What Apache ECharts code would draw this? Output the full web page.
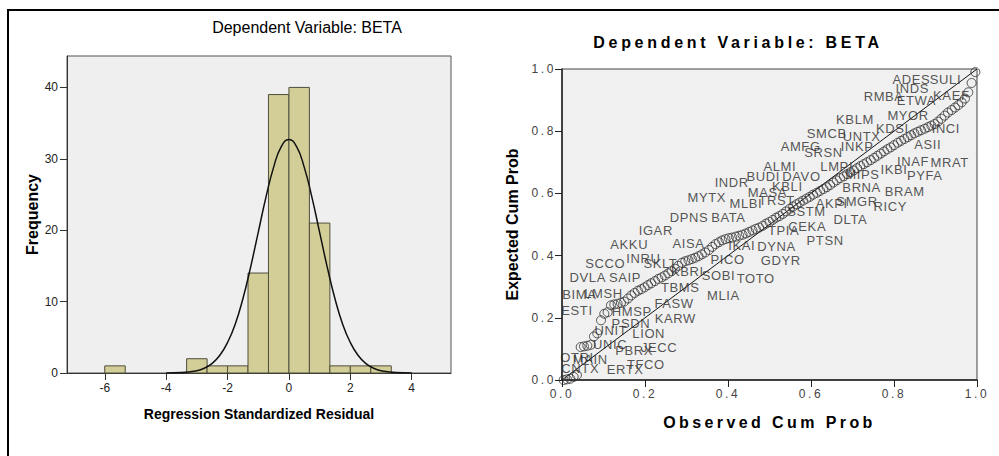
<!DOCTYPE html>
<html>
<head>
<meta charset="utf-8">
<title>Dependent Variable: BETA</title>
<script src="https://cdn.jsdelivr.net/npm/echarts@6/dist/echarts.min.js"></script>
<style>
  html, body { margin: 0; padding: 0; background: #fff; }
  #main { width: 999px; height: 456px; }
  /* letter spacing for the wide SPSS text (svg renderer only) */
  #main text[style*="spA"], #main text[font-family*="spA"] { letter-spacing: 3.7px; }
  #main text[style*="spB"], #main text[font-family*="spB"] { letter-spacing: 3.4px; }
  #main text[style*="spC"], #main text[font-family*="spC"] { letter-spacing: 2.6px; }
  #main text[style*="spD"], #main text[font-family*="spD"] { letter-spacing: 0.6px; }
</style>
</head>
<body>
<div id="main"></div>
<script>
// histogram of residuals
const histLow = [-6, -3.333, -2.667, -2, -1.333, -0.667, 0, 0.667, 1.333, 2, 2.667]
const histCount = [1, 2, 1, 1, 14, 39, 40, 21, 1, 1, 1]
const binWidth = 0.667
// normal curve
const curveX = [-4, -3.5, -3, -2.75, -2.5, -2.25, -2, -1.75, -1.5, -1.25, -1, -0.75, -0.5, -0.25, 0,
  0.25, 0.5, 0.75, 1, 1.25, 1.5, 1.75, 2, 2.25, 2.5, 2.75, 3, 3.5, 4]
const curveY = [0.01, 0.06, 0.33, 0.69, 1.35, 2.49, 4.27, 6.84, 10.4, 14.8, 19.7, 24.6, 28.8, 31.7, 32.7,
  31.7, 28.8, 24.6, 19.7, 14.8, 10.4, 6.84, 4.27, 2.49, 1.35, 0.69, 0.33, 0.06, 0.01]
const residTicks = [-6, -4, -2, 0, 2, 4]
const freqTicks = [0, 10, 20, 30, 40]

// P-P plot
const obsCum = [
  0.004, 0.012, 0.020, 0.028, 0.036, 0.045, 0.053, 0.061, 0.069, 0.077,
  0.085, 0.094, 0.102, 0.110, 0.118, 0.126, 0.134, 0.142, 0.150, 0.159,
  0.167, 0.175, 0.183, 0.191, 0.199, 0.207, 0.215, 0.224, 0.232, 0.240,
  0.248, 0.256, 0.264, 0.272, 0.280, 0.289, 0.297, 0.305, 0.313, 0.321,
  0.329, 0.337, 0.345, 0.354, 0.362, 0.370, 0.378, 0.386, 0.394, 0.402,
  0.410, 0.419, 0.427, 0.435, 0.443, 0.451, 0.459, 0.467, 0.475, 0.484,
  0.492, 0.500, 0.508, 0.516, 0.524, 0.532, 0.540, 0.549, 0.557, 0.565,
  0.573, 0.581, 0.589, 0.597, 0.605, 0.614, 0.622, 0.630, 0.638, 0.646,
  0.654, 0.662, 0.670, 0.679, 0.687, 0.695, 0.703, 0.711, 0.719, 0.727,
  0.735, 0.744, 0.752, 0.760, 0.768, 0.776, 0.784, 0.792, 0.800, 0.809,
  0.817, 0.825, 0.833, 0.841, 0.849, 0.857, 0.865, 0.874, 0.882, 0.890,
  0.898, 0.906, 0.914, 0.922, 0.930, 0.939, 0.947, 0.955, 0.963, 0.971,
  0.979, 0.987, 0.996]
const expCum = [
  0.000, 0.002, 0.004, 0.010, 0.016, 0.106, 0.108, 0.110, 0.113, 0.140,
  0.150, 0.192, 0.213, 0.218, 0.240, 0.243, 0.245, 0.248, 0.252, 0.262,
  0.272, 0.280, 0.287, 0.292, 0.298, 0.305, 0.311, 0.318, 0.325, 0.330,
  0.336, 0.343, 0.350, 0.358, 0.367, 0.377, 0.382, 0.385, 0.389, 0.393,
  0.398, 0.404, 0.410, 0.418, 0.428, 0.437, 0.443, 0.449, 0.453, 0.456,
  0.458, 0.461, 0.464, 0.467, 0.471, 0.476, 0.481, 0.486, 0.490, 0.496,
  0.503, 0.508, 0.515, 0.522, 0.527, 0.534, 0.542, 0.551, 0.558, 0.565,
  0.571, 0.577, 0.583, 0.589, 0.596, 0.602, 0.608, 0.614, 0.620, 0.627,
  0.635, 0.642, 0.649, 0.655, 0.662, 0.668, 0.674, 0.681, 0.688, 0.694,
  0.700, 0.707, 0.714, 0.721, 0.728, 0.735, 0.742, 0.748, 0.755, 0.763,
  0.769, 0.775, 0.781, 0.787, 0.793, 0.798, 0.803, 0.808, 0.813, 0.818,
  0.823, 0.831, 0.840, 0.850, 0.860, 0.868, 0.876, 0.884, 0.893, 0.905,
  0.925, 0.955, 0.990]
// case labels (where SPSS put them)
const caseNames = ['ADES', 'SULI', 'INDS', 'RMBA', 'ETWA', 'KAEF', 'MYOR', 'KBLM', 'KDSI', 'INCI',
  'SMCB', 'UNTX', 'ASII', 'AMFG', 'SRSN', 'INKP', 'INAF', 'MRAT', 'ALMI', 'LMPI',
  'BUDI', 'DAVO', 'MIPS', 'IKBI', 'PYFA', 'INDR', 'KBLI', 'BRNA', 'BRAM', 'MYTX',
  'MASA', 'MLBI', 'TRST', 'AKPI', 'SMGR', 'RICY', 'SSTM', 'DPNS', 'BATA', 'DLTA',
  'IGAR', 'CEKA', 'TPIA', 'AKKU', 'AISA', 'IKAI', 'DYNA', 'PTSN', 'SCCO', 'INRU',
  'SKLT', 'PICO', 'GDYR', 'DVLA', 'SAIP', 'KBRI', 'SOBI', 'TOTO', 'BIMA', 'LMSH',
  'TBMS', 'MLIA', 'ESTI', 'HMSP', 'FASW', 'KARW', 'PSDN', 'UNIT', 'LION', 'UNIC',
  'PBRX', 'JECC', 'OTRI', 'MAIN', 'CNTX', 'ERTX', 'TFCO']
const caseX = [0.842, 0.924, 0.844, 0.775, 0.854, 0.938, 0.834, 0.706, 0.796, 0.925,
  0.638, 0.722, 0.881, 0.575, 0.630, 0.711, 0.846, 0.934, 0.525, 0.662,
  0.485, 0.577, 0.724, 0.800, 0.874, 0.409, 0.543, 0.722, 0.826, 0.349,
  0.495, 0.443, 0.517, 0.650, 0.711, 0.791, 0.589, 0.306, 0.401, 0.695,
  0.226, 0.591, 0.534, 0.162, 0.305, 0.433, 0.517, 0.634, 0.104, 0.196,
  0.237, 0.399, 0.527, 0.062, 0.152, 0.302, 0.377, 0.467, 0.042, 0.100,
  0.285, 0.389, 0.036, 0.168, 0.270, 0.273, 0.166, 0.118, 0.209, 0.116,
  0.174, 0.234, 0.036, 0.068, 0.044, 0.152, 0.202]
const caseY = [0.965, 0.965, 0.938, 0.911, 0.898, 0.914, 0.852, 0.838, 0.809, 0.809,
  0.791, 0.782, 0.756, 0.750, 0.731, 0.750, 0.704, 0.700, 0.688, 0.688,
  0.654, 0.654, 0.661, 0.678, 0.657, 0.635, 0.622, 0.620, 0.606, 0.586,
  0.602, 0.568, 0.576, 0.568, 0.573, 0.557, 0.541, 0.523, 0.523, 0.517,
  0.482, 0.493, 0.480, 0.436, 0.439, 0.434, 0.429, 0.447, 0.375, 0.391,
  0.375, 0.389, 0.383, 0.330, 0.330, 0.348, 0.337, 0.327, 0.275, 0.279,
  0.297, 0.273, 0.225, 0.220, 0.247, 0.198, 0.182, 0.158, 0.148, 0.113,
  0.096, 0.104, 0.073, 0.066, 0.038, 0.034, 0.050]

const arial = "'Liberation Sans', Arial, sans-serif"

const chart = echarts.init(document.querySelector('#main'), null, { renderer: 'svg' })

const option = {
  animation: false,
  backgroundColor: '#fff',
  title: [
    {
      text: 'Dependent Variable: BETA',
      left: 302,
      top: 14,
      textAlign: 'center',
      textStyle: { fontFamily: arial, fontSize: 16, fontWeight: 'normal', color: '#000' }
    },
    {
      text: 'Dependent Variable: BETA',
      left: 733,
      top: 29,
      textAlign: 'center',
      textStyle: { fontFamily: arial + ', spA', fontSize: 16, fontWeight: 'bold', color: '#000' }
    }
  ],
  graphic: [
    { type: 'line', shape: { x1: 7, y1: 10, x2: 999, y2: 10 }, style: { stroke: '#000', lineWidth: 2 } },
    { type: 'line', shape: { x1: 8, y1: 10, x2: 8, y2: 456 }, style: { stroke: '#000', lineWidth: 2 } }
  ],
  grid: [
    { left: 67, top: 56, width: 384, height: 317, show: true, backgroundColor: '#efefef', borderColor: '#555', borderWidth: 1 },
    { left: 562, top: 69, width: 415, height: 311, show: true, backgroundColor: '#f0f0f0', borderColor: '#444', borderWidth: 1 }
  ],
  xAxis: [
    {
      type: 'value',
      gridIndex: 0,
      min: -7.23,
      max: 5.28,
      name: 'Regression Standardized Residual',
      nameLocation: 'middle',
      nameGap: 34,
      nameTextStyle: { fontFamily: arial, fontSize: 14, fontWeight: 'bold', color: '#000' },
      axisLine: { onZero: false, lineStyle: { color: '#333', width: 1 } },
      axisTick: { customValues: residTicks, length: 7, lineStyle: { color: '#333' } },
      axisLabel: { customValues: residTicks, fontFamily: arial, fontSize: 12, color: '#222', margin: 9 },
      splitLine: { show: false }
    },
    {
      type: 'value',
      gridIndex: 1,
      min: 0,
      max: 1,
      interval: 0.2,
      name: 'Observed Cum Prob',
      nameLocation: 'middle',
      nameGap: 34,
      nameTextStyle: { fontFamily: arial + ', spB', fontSize: 16, fontWeight: 'bold', color: '#000' },
      axisLine: { onZero: false, lineStyle: { color: '#222', width: 1.5 } },
      axisTick: { length: 7, lineStyle: { color: '#222' } },
      axisLabel: { formatter: v => v.toFixed(1), fontFamily: arial + ', spC', fontSize: 12, color: '#444', margin: 8 },
      splitLine: { show: false }
    }
  ],
  yAxis: [
    {
      type: 'value',
      gridIndex: 0,
      min: 0,
      max: 44.4,
      name: 'Frequency',
      nameLocation: 'middle',
      nameGap: 22,
      nameTextStyle: { fontFamily: arial, fontSize: 16, fontWeight: 'bold', color: '#000' },
      axisLine: { onZero: false, lineStyle: { color: '#333', width: 1 } },
      axisTick: { customValues: freqTicks, length: 7, lineStyle: { color: '#333' } },
      axisLabel: { customValues: freqTicks, fontFamily: arial, fontSize: 12, color: '#222', margin: 9 },
      splitLine: { show: false }
    },
    {
      type: 'value',
      gridIndex: 1,
      min: 0,
      max: 1,
      interval: 0.2,
      name: 'Expected Cum Prob',
      nameLocation: 'middle',
      nameGap: 42,
      nameTextStyle: { fontFamily: arial, fontSize: 16, fontWeight: 'bold', color: '#000' },
      axisLine: { onZero: false, lineStyle: { color: '#222', width: 1.5 } },
      axisTick: { length: 7, lineStyle: { color: '#222' } },
      axisLabel: { formatter: v => v.toFixed(1), fontFamily: arial + ', spC', fontSize: 12, color: '#444', margin: 6 },
      splitLine: { show: false }
    }
  ],
  series: [
    {
      type: 'custom',
      xAxisIndex: 0,
      yAxisIndex: 0,
      data: histLow.map((v, i) => [v, v + binWidth, histCount[i]]),
      encode: { x: [0, 1], y: 2 },
      renderItem: (params, api) => {
        const p0 = api.coord([api.value(0), 0])
        const p1 = api.coord([api.value(1), api.value(2)])
        return {
          type: 'rect',
          shape: { x: p0[0], y: p1[1], width: p1[0] - p0[0], height: p0[1] - p1[1] },
          style: { fill: '#d3ce98', stroke: '#4f4e3c', lineWidth: 1 }
        }
      }
    },
    {
      type: 'line',
      xAxisIndex: 0,
      yAxisIndex: 0,
      data: curveX.map((v, i) => [v, curveY[i]]),
      smooth: true,
      symbol: 'none',
      lineStyle: { color: '#111', width: 1.5 },
      z: 5
    },
    {
      // reference diagonal
      type: 'line',
      xAxisIndex: 1,
      yAxisIndex: 1,
      data: [[0, 0], [1, 1]],
      symbol: 'none',
      lineStyle: { color: '#111', width: 1 },
      z: 3
    },
    {
      type: 'scatter',
      xAxisIndex: 1,
      yAxisIndex: 1,
      data: obsCum.map((v, i) => [v, expCum[i]]),
      symbol: 'circle',
      symbolSize: 9,
      itemStyle: { color: 'rgba(0,0,0,0)', borderColor: '#2e2e2e', borderWidth: 1 },
      z: 4
    },
    {
      type: 'scatter',
      xAxisIndex: 1,
      yAxisIndex: 1,
      data: caseNames.map((n, i) => ({ name: n, value: [caseX[i], caseY[i]] })),
      symbolSize: 0.1,
      itemStyle: { color: 'rgba(0,0,0,0)' },
      label: {
        show: true,
        position: 'inside',
        formatter: p => p.name,
        fontFamily: arial + ', spD',
        fontSize: 13,
        color: '#2a2a2a'
      },
      z: 6
    }
  ]
}
chart.setOption(option)
</script>
</body>
</html>
